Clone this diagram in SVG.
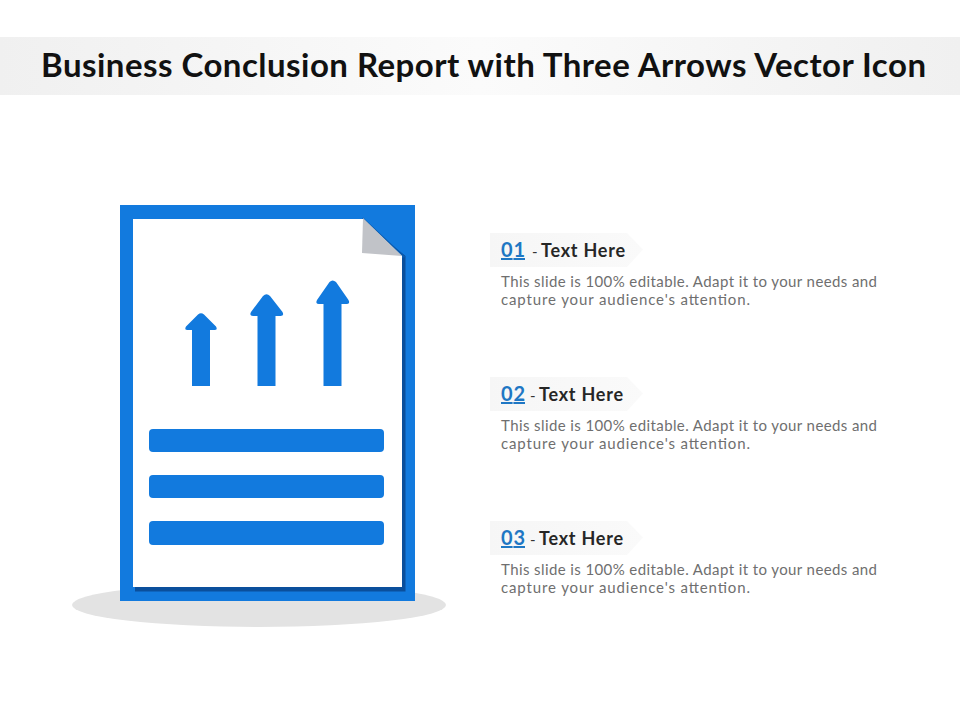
<svg xmlns="http://www.w3.org/2000/svg" width="960" height="720" viewBox="0 0 960 720">
<defs>
<linearGradient id="band" x1="0" x2="1" y1="0" y2="0"><stop offset="0" stop-color="#f0f0f0"/><stop offset="0.5" stop-color="#fbfbfb"/><stop offset="1" stop-color="#f0f0f0"/></linearGradient>
<linearGradient id="tag" x1="0" x2="1" y1="0" y2="0"><stop offset="0" stop-color="#f6f6f6"/><stop offset="1" stop-color="#fafafa"/></linearGradient>
</defs>
<style>
text{font-family:Lato,"Open Sans",sans-serif}
.blue{fill:#127ade}
.title{font-size:33px;font-weight:700;fill:#111}
.num{font-size:20px;font-weight:700;fill:#1f77c4;text-decoration:underline}
.dash{font-size:15px;fill:#333}
.head{font-size:18px;font-weight:700;fill:#262626}
.body{font-size:15px;fill:#6f6f6f}
.tag{fill:url(#tag)}
</style>
<rect id="title-band" x="0" y="37" width="960" height="58" fill="url(#band)"/>
<text class="title" x="41" y="77" textLength="885" lengthAdjust="spacing">Business Conclusion Report with Three Arrows Vector Icon</text>
<g id="document">
<ellipse cx="259" cy="605" rx="187" ry="22" fill="#e3e3e3"/>
<rect x="120" y="205" width="295" height="396" class="blue"/>
<path d="M135 221H363L405.500 256V591.500H135Z" fill="#0a4f9c"/>
<path d="M363 217.500L405.500 257L402 258L362 219Z" fill="#0a5cb0"/>
<path d="M133 219H363L402 256V587H133Z" fill="#fff"/>
<path d="M363 218L402 256L362 253Z" fill="#c1c3c8"/>
<rect x="149" y="429" width="235" height="23" rx="4" class="blue"/>
<rect x="149" y="475" width="235" height="23" rx="4" class="blue"/>
<rect x="149" y="521" width="235" height="24" rx="4" class="blue"/>
<path class="blue" d="M192 386V330H187.500Q184 330 186 326.500L198 314.500Q201 312 204 314.500L216 326.500Q218 330 214.500 330H210V386Z"/>
<path class="blue" d="M257.500 386V316H253Q249 316 251 312L263 296Q266.500 292.500 270 296L282.500 312Q284.500 316 280.500 316H275.500V386Z"/>
<path class="blue" d="M323.500 386V304H319Q315 304 317 300L329.500 282Q332.500 279 336 282L348.500 300Q350.500 304 346.500 304H341.500V386Z"/>
</g>
<g id="item-01">
<path class="tag" d="M490 233H627L643 249.500L627 267H490Z"/>
<text class="num" x="501" y="257" textLength="24">01</text><text class="dash" x="532" y="257">-</text><text class="head" x="541" y="257" textLength="84">Text Here</text>
<text class="body" x="501" y="287" textLength="376">This slide is 100% editable. Adapt it to your needs and</text>
<text class="body" x="501" y="305" textLength="249">capture your audience's attention.</text>
</g>
<g id="item-02">
<path class="tag" d="M490 377H627L643 393.500L627 411H490Z"/>
<text class="num" x="501" y="401" textLength="24">02</text><text class="dash" x="530" y="401">-</text><text class="head" x="539" y="401" textLength="84">Text Here</text>
<text class="body" x="501" y="431" textLength="376">This slide is 100% editable. Adapt it to your needs and</text>
<text class="body" x="501" y="449" textLength="249">capture your audience's attention.</text>
</g>
<g id="item-03">
<path class="tag" d="M490 521H627L643 537.500L627 555H490Z"/>
<text class="num" x="501" y="545" textLength="24">03</text><text class="dash" x="530" y="545">-</text><text class="head" x="539" y="545" textLength="84">Text Here</text>
<text class="body" x="501" y="575" textLength="376">This slide is 100% editable. Adapt it to your needs and</text>
<text class="body" x="501" y="593" textLength="249">capture your audience's attention.</text>
</g>
<g id="connectors"></g>
</svg>
